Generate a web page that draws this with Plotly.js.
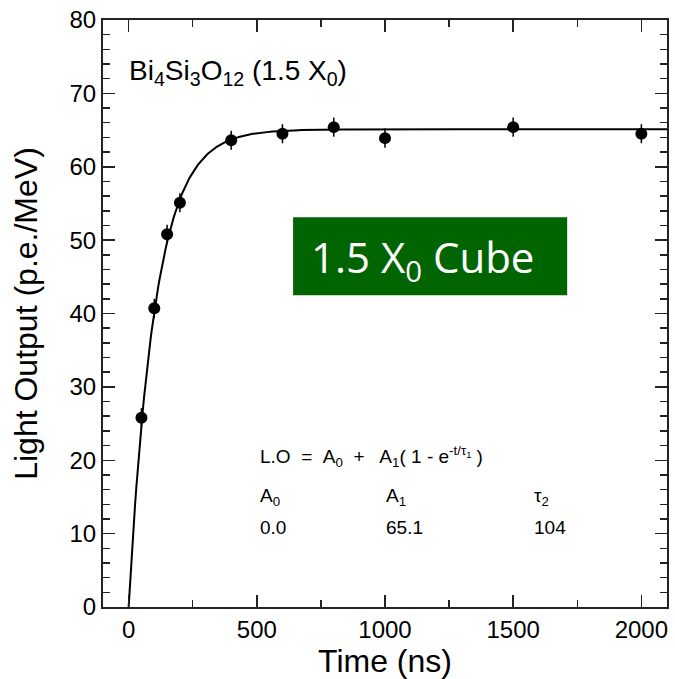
<!DOCTYPE html>
<html>
<head>
<meta charset="utf-8">
<script src="https://cdn.plot.ly/plotly-3.0.1.min.js"></script>
<style>
  html, body { margin: 0; padding: 0; background: #fff; }
  #chart { width: 675px; height: 679px; }
</style>
</head>
<body>
<div id="chart"></div>
<script>
// Measured light output of the BGO crystal vs. integration time
const timeNs = [50, 100, 150, 200, 400, 600, 800, 1000, 1500, 2000];
const lightOutput = [25.8, 40.7, 50.8, 55.1, 63.6, 64.5, 65.4, 63.9, 65.4, 64.5];
const lightErr = [1.3, 1.3, 1.3, 1.3, 1.3, 1.3, 1.3, 1.3, 1.3, 1.3];

// Fit parameters: L.O = A0 + A1 (1 - exp(-t/tau))
const fitNames = ["A0", "A1", "tau"];
const fitValues = [0.0, 65.1, 104];
const fitLabels = ["0.0", "65.1", "104"];

const xTicks = [0, 500, 1000, 1500, 2000];
const yTicks = [0, 10, 20, 30, 40, 50, 60, 70, 80];

// Evaluate the fitted curve along the time axis
const A0 = fitValues[0], A1 = fitValues[1], tau = fitValues[2];
const fitT = [];
const fitY = [];
for (let t = 0; t <= 2100; t += 5) {
  fitT.push(t);
  fitY.push(A0 + A1 * (1 - Math.exp(-t / tau)));
}

const fitTrace = {
  x: fitT, y: fitY, mode: 'lines', type: 'scatter',
  line: { color: '#000', width: 2 }, hoverinfo: 'skip'
};

const dataTrace = {
  x: timeNs, y: lightOutput, mode: 'markers', type: 'scatter',
  marker: { color: '#000', size: 12 },
  error_y: { type: 'data', array: lightErr, visible: true, color: '#000', thickness: 1.5, width: 0 }
};

const font = "'Liberation Sans', Arial, Helvetica, sans-serif";
const noteFont = { family: font, size: 19, color: '#000' };

const axisCommon = {
  showgrid: false, zeroline: false, showline: true, linecolor: '#222', linewidth: 2,
  mirror: 'ticks', ticks: 'inside', ticklen: 12, tickwidth: 1.5, tickcolor: '#222',
  tickfont: { family: font, size: 24, color: '#000' }
};

// Column positions of the fit-parameter table (paper units)
const colX = [0.274, 0.499, 0.761];

const layout = {
  width: 675, height: 679,
  margin: { l: 103, r: 8, t: 20, b: 72 },
  paper_bgcolor: '#fff', plot_bgcolor: '#fff',
  showlegend: false,
  xaxis: Object.assign({}, axisCommon, {
    range: [-100, 2100], tickvals: xTicks, ticktext: xTicks.map(String),
    minor: { dtick: 250, tick0: 0, ticks: 'inside', ticklen: 7, tickwidth: 1.5, tickcolor: '#222' },
    title: { text: 'Time (ns)', font: { family: font, size: 32, color: '#000' }, standoff: 1 }
  }),
  yaxis: Object.assign({}, axisCommon, {
    range: [0, 80], tickvals: yTicks, ticktext: yTicks.map(String),
    minor: { dtick: 2, tick0: 0, ticks: 'inside', ticklen: 7, tickwidth: 1.5, tickcolor: '#222' },
    title: { text: 'Light Output (p.e./MeV)', font: { family: font, size: 32, color: '#000' }, standoff: 22 }
  }),
  shapes: [{
    type: 'rect', xref: 'paper', yref: 'paper',
    x0: 0.337, x1: 0.823, y0: 0.531, y1: 0.664,
    fillcolor: '#006400', line: { width: 0 }
  }],
  annotations: [
    {
      xref: 'paper', yref: 'paper', x: 0.567, y: 0.592, xanchor: 'center', yanchor: 'middle',
      text: '1.5 X<sub>0</sub> Cube', showarrow: false,
      font: { family: "'Open Sans', 'Noto Sans', sans-serif", size: 42, color: '#fff' }
    },
    {
      xref: 'paper', yref: 'paper', x: 0.043, y: 0.91, xanchor: 'left', yanchor: 'middle',
      text: 'Bi<sub>4</sub>Si<sub>3</sub>O<sub>12</sub> (1.5 X<sub>0</sub>)', showarrow: false,
      font: { family: font, size: 28, color: '#000' }
    },
    {
      xref: 'paper', yref: 'paper', x: colX[0], y: 0.257, xanchor: 'left', yanchor: 'middle',
      text: 'L.O &nbsp;= &nbsp;A<sub>0</sub> &nbsp;+ &nbsp; A<sub>1</sub>( 1 - e<sup>-t/τ<sub>1</sub></sup> )', showarrow: false,
      font: noteFont
    },
    {
      xref: 'paper', yref: 'paper', x: colX[0], y: 0.187, xanchor: 'left', yanchor: 'middle',
      text: 'A<sub>0</sub>', showarrow: false, font: noteFont
    },
    {
      xref: 'paper', yref: 'paper', x: colX[1], y: 0.187, xanchor: 'left', yanchor: 'middle',
      text: 'A<sub>1</sub>', showarrow: false, font: noteFont
    },
    {
      xref: 'paper', yref: 'paper', x: colX[2], y: 0.187, xanchor: 'left', yanchor: 'middle',
      text: 'τ<sub>2</sub>', showarrow: false, font: noteFont
    },
    {
      xref: 'paper', yref: 'paper', x: colX[0], y: 0.136, xanchor: 'left', yanchor: 'middle',
      text: fitLabels[0], showarrow: false, font: noteFont
    },
    {
      xref: 'paper', yref: 'paper', x: colX[1], y: 0.136, xanchor: 'left', yanchor: 'middle',
      text: fitLabels[1], showarrow: false, font: noteFont
    },
    {
      xref: 'paper', yref: 'paper', x: colX[2], y: 0.136, xanchor: 'left', yanchor: 'middle',
      text: fitLabels[2], showarrow: false, font: noteFont
    }
  ]
};

Plotly.newPlot('chart', [fitTrace, dataTrace], layout, { displayModeBar: false, staticPlot: true });
</script>
</body>
</html>
